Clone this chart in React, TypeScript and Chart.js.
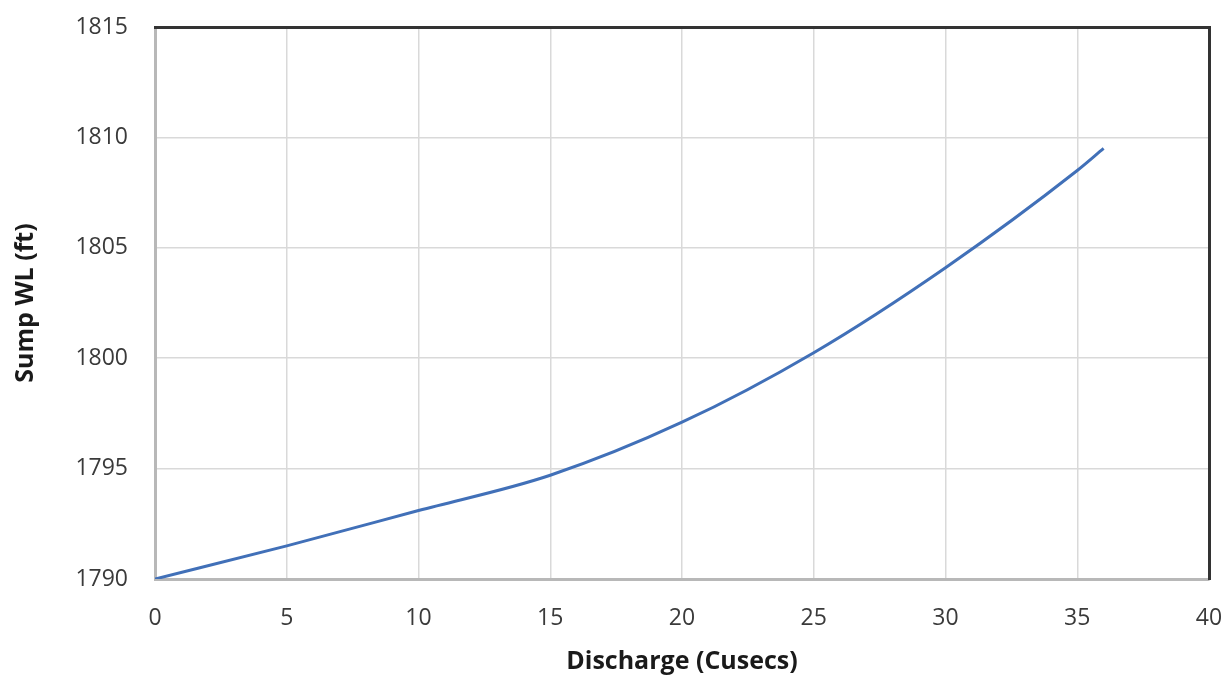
import React, { useEffect, useRef } from "react";
import { Chart, registerables } from "chart.js";

Chart.register(...registerables);

const discharge = [0, 5, 10, 15, 20, 25, 30, 35, 36];
const sumpWL = [1790, 1791.5, 1793.1, 1794.7, 1797.1, 1800.25, 1804.1, 1808.5, 1809.5];
const xTitle = "Discharge (Cusecs)";
const yTitle = "Sump WL (ft)";
const xMin = 0, xMax = 40, xStep = 5;
const yMin = 1790, yMax = 1815, yStep = 5;

export default function App() {
  const ref = useRef<HTMLCanvasElement | null>(null);
  useEffect(() => {
    if (!ref.current) return;
    const tickFont = { family: "'Open Sans', sans-serif", size: 23 };
    const titleFont = { family: "'Open Sans', sans-serif", size: 25, weight: "bold" as const };
    const fmt = (v: any) => String(v);
    const chart = new Chart(ref.current, {
      type: "line",
      data: {
        datasets: [
          {
            data: discharge.map((x, i) => ({ x, y: sumpWL[i] })),
            borderColor: "#4170b8",
            borderWidth: 3,
            pointRadius: 0,
            cubicInterpolationMode: "monotone",
            fill: false,
          },
        ],
      },
      options: {
        responsive: false,
        animation: false,
        layout: { padding: { left: 0, top: 27, right: 16, bottom: 0 } },
        plugins: { legend: { display: false }, tooltip: { enabled: false } },
        scales: {
          x: {
            type: "linear",
            position: "bottom",
            min: xMin,
            max: xMax,
            ticks: { stepSize: xStep, font: tickFont, color: "#3a3a3a", padding: 0, callback: fmt },
            grid: { color: "#d9d9d9", lineWidth: 1.5, drawTicks: true, tickLength: 26, tickColor: "rgba(0,0,0,0)" },
            border: { color: "#b8b8b8", width: 3 },
            title: { display: true, text: xTitle, font: titleFont, color: "#1a1a1a", padding: { top: 0, bottom: 1 } },
            afterFit: (s: any) => { s.height = 99; },
          },
          y: {
            type: "linear",
            position: "left",
            min: yMin,
            max: yMax,
            ticks: { stepSize: yStep, font: tickFont, color: "#3a3a3a", padding: 0, callback: fmt },
            grid: { color: "#d9d9d9", lineWidth: 1.5, drawTicks: true, tickLength: 27, tickColor: "rgba(0,0,0,0)" },
            border: { color: "#b8b8b8", width: 3 },
            title: { display: true, text: yTitle, font: titleFont, color: "#1a1a1a", padding: { top: 11, bottom: 0 } },
            afterFit: (s: any) => { s.width = 155; },
          },
          x2: {
            type: "linear",
            position: "top",
            min: xMin,
            max: xMax,
            ticks: { display: false },
            grid: { display: false, drawTicks: false },
            border: { display: true, color: "#333333", width: 3 },
            afterFit: (s: any) => { s.height = 0; },
          },
          y2: {
            type: "linear",
            position: "right",
            min: yMin,
            max: yMax,
            ticks: { display: false },
            grid: { display: false, drawTicks: false },
            border: { display: true, color: "#333333", width: 3 },
            afterFit: (s: any) => { s.width = 0; },
          },
        },
      },
    });
    return () => chart.destroy();
  }, []);
  return (
    <div style={{ position: "absolute", left: 0, top: 0, width: 1225, height: 678, background: "#fff" }}>
      <canvas ref={ref} width={1225} height={678} />
    </div>
  );
}
